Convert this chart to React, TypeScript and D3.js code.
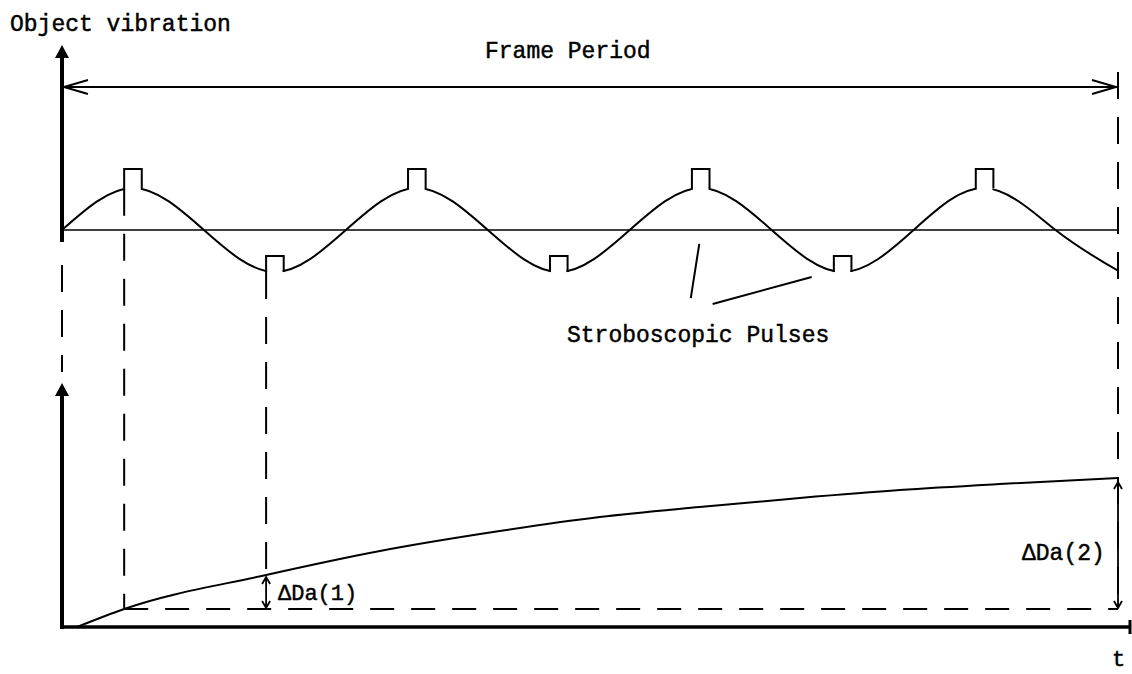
import React from 'react';
import * as d3 from 'd3';

// time is counted in vibration cycles; the frame lasts 3.72 cycles
const frameEnd = 3.72;

// object vibration, read at quarter cycles
const vibT = [0, 0.25, 0.5, 0.75, 1, 1.25, 1.5, 1.75, 2, 2.25, 2.5, 2.75, 3, 3.25, 3.5, 3.72];
const vibV = [0, 1, 0, -1, 0, 1, 0, -1, 0, 1, 0, -1, 0, 1, 0, -0.97];

// stroboscopic pulses (centre time, level of the wave, pulse height)
const pulseT = [0.25, 0.75, 1.25, 1.75, 2.25, 2.75, 3.25];
const pulseV = [1, -1, 1, -1, 1, -1, 1];
const pulseH = [0.45, 0.38, 0.45, 0.38, 0.45, 0.38, 0.45];
const pulseWidth = 0.062;

// accumulated displacement (lower panel)
const accT = [0.053, 0.219, 0.719, 1.12, 1.542, 1.894, 2.246, 2.599, 2.951, 3.303, 3.72];
const accV = [0, 0.12, 0.347, 0.507, 0.64, 0.733, 0.8, 0.86, 0.913, 0.953, 0.993];

// leader lines for "Stroboscopic Pulses", in (time, vibration) units
const leaders = [
  [[2.245, -0.33], [2.215, -1.62]],
  [[2.292, -1.76], [2.641, -1.12]],
];

const labels = {
  yTitle: 'Object vibration',
  frame: 'Frame Period',
  pulses: 'Stroboscopic Pulses',
  d1: 'ΔDa(1)',
  d2: 'ΔDa(2)',
  t: 't',
};

const mono = '"Liberation Mono", "DejaVu Sans Mono", monospace';

function App() {
  const x = d3.scaleLinear().domain([0, frameEnd]).range([62, 1118]);
  const yVib = d3.scaleLinear().domain([-1, 1]).range([272, 188]);
  const yAcc = d3.scaleLinear().domain([0, 1]).range([627, 477]);

  const vibLine = d3.line<number>()
    .x((d, i) => x(vibT[i]))
    .y((d) => yVib(d))
    .curve(d3.curveNatural);

  const accLine = d3.line<number>()
    .x((d, i) => x(accT[i]))
    .y((d) => yAcc(d))
    .curve(d3.curveMonotoneX);

  const x0 = x(0);
  const xEnd = x(frameEnd);
  const yBase = yVib(0);
  const yAxisLow = yAcc(0);
  const s1x = x(accT[1]);
  const s2x = x(accT[2]);
  const refY = yAcc(accV[1]);

  const dash = '27 18';
  const txt = { fontFamily: mono, stroke: '#000', strokeWidth: 0.45 };

  const dArrow = (xx: number, y1: number, y2: number) =>
    `M${xx},${y1}V${y2}M${xx - 4},${y1 + 7}L${xx},${y1}L${xx + 4},${y1 + 7}` +
    `M${xx - 4},${y2 - 7}L${xx},${y2}L${xx + 4},${y2 - 7}`;

  return (
    <svg width={1132} height={674} style={{ position: 'absolute', left: 0, top: 0, background: '#fff' }}>
      {/* titles */}
      <text x={10} y={31} fontSize={23} {...txt}>{labels.yTitle}</text>
      <text x={485} y={58} fontSize={23} {...txt}>{labels.frame}</text>
      <text x={567} y={342} fontSize={23} {...txt}>{labels.pulses}</text>

      {/* frame period arrow */}
      <g stroke="#000" strokeWidth={2} fill="none">
        <line x1={x0} x2={xEnd} y1={87} y2={87} />
        <path d={`M${x0 + 26},${80}L${x0 + 2},${87}L${x0 + 26},${94}`} />
        <path d={`M${xEnd - 26},${80}L${xEnd - 2},${87}L${xEnd - 26},${94}`} />
      </g>

      {/* upper axis */}
      <line x1={x0} x2={x0} y1={242} y2={58} stroke="#000" strokeWidth={4} />
      <path d={`M${x0},45L${x0 + 7},58L${x0 - 7},58Z`} fill="#000" />
      <line x1={x0} x2={xEnd} y1={yBase} y2={yBase} stroke="#000" strokeWidth={1.6} />

      {/* vibration wave */}
      <path d={vibLine(vibV) || ''} fill="none" stroke="#000" strokeWidth={2} />
      {pulseT.map((t, i) => {
        const xl = x(t - pulseWidth / 2);
        const xr = x(t + pulseWidth / 2);
        const yb = yVib(pulseV[i]);
        const top = yVib(pulseV[i] + pulseH[i]);
        return (
          <g key={i}>
            <rect x={xl + 1} width={xr - xl - 2} y={top} height={yb - top + 3} fill="#fff" />
            <path d={`M${xl},${yb}V${top}H${xr}V${yb}`} fill="none" stroke="#000" strokeWidth={2} />
          </g>
        );
      })}

      {/* leader lines */}
      {leaders.map((l, i) => (
        <line key={i} x1={x(l[0][0])} y1={yVib(l[0][1])} x2={x(l[1][0])} y2={yVib(l[1][1])}
          stroke="#000" strokeWidth={2} />
      ))}

      {/* dashed guides */}
      <g stroke="#000" strokeWidth={2} strokeDasharray={dash} fill="none">
        <line x1={x0} x2={x0} y1={265} y2={372} />
        <line x1={s1x} x2={s1x} y1={yVib(0.98)} y2={refY} />
        <line x1={s2x} x2={s2x} y1={yVib(-1)} y2={yAcc(accV[2]) - 2} />
        <line x1={xEnd} x2={xEnd} y1={72} y2={refY} />
        <line x1={s1x} x2={xEnd} y1={refY} y2={refY} strokeDasharray="24 17" />
      </g>

      {/* lower axis */}
      <line x1={x0} x2={x0} y1={yAxisLow + 2} y2={395} stroke="#000" strokeWidth={4} />
      <path d={`M${x0},383L${x0 + 7},396L${x0 - 7},396Z`} fill="#000" />
      <line x1={x0 - 2} x2={1130} y1={yAxisLow} y2={yAxisLow} stroke="#000" strokeWidth={3.5} />
      <line x1={1130} x2={1130} y1={yAxisLow - 7} y2={yAxisLow + 7} stroke="#000" strokeWidth={3} />

      {/* accumulated curve */}
      <path d={accLine(accV) || ''} fill="none" stroke="#000" strokeWidth={2} />

      {/* delta arrows */}
      <path d={dArrow(s2x, yAcc(accV[2]) + 2, refY - 1)} fill="none" stroke="#000" strokeWidth={1.8} />
      <path d={dArrow(xEnd, yAcc(accV[accV.length - 1]) + 4, refY - 1)} fill="none" stroke="#000" strokeWidth={1.8} />
      <text x={278} y={600} fontSize={22} {...txt}>{labels.d1}</text>
      <text x={1022} y={560} fontSize={23} {...txt}>{labels.d2}</text>
      <text x={1112} y={666} fontSize={22} {...txt}>{labels.t}</text>
    </svg>
  );
}

export default App;
